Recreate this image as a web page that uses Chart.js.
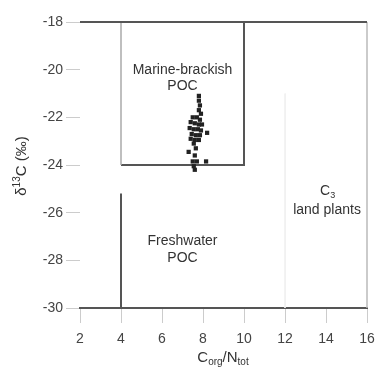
<!DOCTYPE html>
<html>
<head>
<meta charset="utf-8">
<script src="https://cdn.jsdelivr.net/npm/chart.js@4/dist/chart.umd.min.js"></script>
<style>
  html, body { margin: 0; padding: 0; background: #fff; }
  #wrap { width: 379px; height: 376px; }
</style>
</head>
<body>
<div id="wrap"><canvas id="myChart"></canvas></div>
<script>
// C/N ratio vs d13C samples
var cnRatio = [7.8, 7.8, 7.85, 7.8, 7.9,
               7.5, 7.7, 7.85, 7.4, 7.6, 7.8, 7.95, 7.35, 7.55, 7.75, 7.9, 8.2, 7.45, 7.65, 7.85, 7.4, 7.6, 7.8, 7.55,
               7.3, 7.65, 7.6, 7.5, 7.7, 8.15, 7.55, 7.6];
var d13C    = [-21.1, -21.3, -21.5, -21.7, -21.85,
               -22.0, -22.0, -22.1, -22.2, -22.25, -22.3, -22.3, -22.45, -22.5, -22.5, -22.55, -22.65, -22.7, -22.75, -22.75, -22.9, -22.95, -22.95, -23.1,
               -23.45, -23.3, -23.6, -23.85, -23.85, -23.85, -24.05, -24.2];

// field boundaries
var boxLeftX = [4, 4];
var boxLeftY = [-18, -24];
var boxRestX = [4, 10, 10];
var boxRestY = [-24, -24, -18];
var freshLineX = [4, 4];
var freshLineY = [-25.2, -30];
var c3LineX = [12, 12];
var c3LineY = [-21, -30];
var topLineX = [2, 16];
var topLineY = [-18, -18];
var rightLineX = [16, 16];
var rightLineY = [-18, -30];

// field labels
var fieldLabels = [
  {text: 'Marine-brackish', x: 7, y: -20.0},
  {text: 'POC', x: 7, y: -20.7},
  {text: 'Freshwater', x: 7, y: -27.2},
  {text: 'POC', x: 7, y: -27.9},
  {text: 'land plants', x: 14.05, y: -25.9}
];

function pts(xs, ys){
    var out = [];
    for (var i = 0; i < xs.length; i++) out.push({x: xs[i], y: ys[i]});
    return out;
}

function lineSet(xs, ys, color, width){
    return {
        type: 'line',
        data: pts(xs, ys),
        borderColor: color,
        borderWidth: width,
        pointRadius: 0,
        fill: false,
        tension: 0,
        clip: false,
        order: 2
    };
}

var FONT = '"Liberation Sans", Arial, sans-serif';

var labelsPlugin = {
    id: 'labels',
    afterDraw: function(chart){
        var ctx = chart.ctx;
        var xs = chart.scales.x, ys = chart.scales.y;
        ctx.save();
        ctx.fillStyle = '#333';
        ctx.font = '14px ' + FONT;
        ctx.textAlign = 'center';
        ctx.textBaseline = 'middle';
        fieldLabels.forEach(function(l){
            ctx.fillText(l.text, xs.getPixelForValue(l.x), ys.getPixelForValue(l.y));
        });

        // C3
        var cx = xs.getPixelForValue(14.05), cy = ys.getPixelForValue(-25.1);
        ctx.textAlign = 'left';
        ctx.font = '14px ' + FONT;
        var w = ctx.measureText('C').width;
        ctx.fillText('C', cx - 7, cy);
        ctx.font = '9px ' + FONT;
        ctx.fillText('3', cx - 7 + w, cy + 4);

        // x title: Corg/Ntot
        var parts = [['C', 15, 0], ['org', 10, 4], ['/N', 15, 0], ['tot', 10, 4]];
        var total = 0;
        parts.forEach(function(p){ ctx.font = p[1] + 'px ' + FONT; total += ctx.measureText(p[0]).width; });
        var px = 223 - total / 2, py = 358;
        parts.forEach(function(p){
            ctx.font = p[1] + 'px ' + FONT;
            ctx.fillText(p[0], px, py + p[2]);
            px += ctx.measureText(p[0]).width;
        });

        // y title: d13C (permil)
        ctx.translate(22, 166);
        ctx.rotate(-Math.PI / 2);
        var yparts = [['δ', 15, 0], ['13', 10, -5], ['C (‰)', 15, 0]];
        total = 0;
        yparts.forEach(function(p){ ctx.font = p[1] + 'px ' + FONT; total += ctx.measureText(p[0]).width; });
        px = -total / 2;
        yparts.forEach(function(p){
            ctx.font = p[1] + 'px ' + FONT;
            ctx.fillText(p[0], px, p[2]);
            px += ctx.measureText(p[0]).width;
        });
        ctx.restore();
    }
};

var ctx = document.getElementById('myChart').getContext('2d');
var myChart = new Chart(ctx, {
    type: 'scatter',
    data: {
        datasets: [
            {
                data: pts(cnRatio, d13C),
                pointStyle: 'rect',
                pointRadius: 3,
                backgroundColor: '#222',
                borderColor: '#222',
                borderWidth: 0,
                order: 1
            },
            lineSet(topLineX, topLineY, '#555', 2),
            lineSet(rightLineX, rightLineY, '#bbb', 1.5),
            lineSet(c3LineX, c3LineY, '#f0f0f0', 1),
            lineSet(freshLineX, freshLineY, '#555', 2),
            lineSet(boxLeftX, boxLeftY, '#aaa', 1.5),
            lineSet(boxRestX, boxRestY, '#555', 2)
        ]
    },
    options: {
        responsive: true,
        maintainAspectRatio: false,
        animation: false,
        events: [],
        layout: { padding: { top: 22, right: 12, left: 0, bottom: 0 } },
        plugins: { legend: { display: false }, tooltip: { enabled: false } },
        scales: {
            x: {
                type: 'linear',
                min: 2, max: 16,
                afterFit: function(s){ s.height = 68; s.paddingLeft = 0; s.paddingRight = 0; },
                ticks: { stepSize: 2, color: '#444', padding: 8, font: { family: FONT, size: 14 } },
                grid: { drawOnChartArea: false, tickLength: 15, color: '#ccc' },
                border: { display: true, color: '#555', width: 2 }
            },
            y: {
                type: 'linear',
                min: -30, max: -18,
                afterFit: function(s){ s.width = 80; s.paddingTop = 0; s.paddingBottom = 0; },
                ticks: { stepSize: 2, color: '#444', padding: 3, font: { family: FONT, size: 14 } },
                grid: { drawOnChartArea: false, tickLength: 14, color: '#ccc' },
                border: { display: false }
            }
        }
    },
    plugins: [labelsPlugin]
});
</script>
</body>
</html>
